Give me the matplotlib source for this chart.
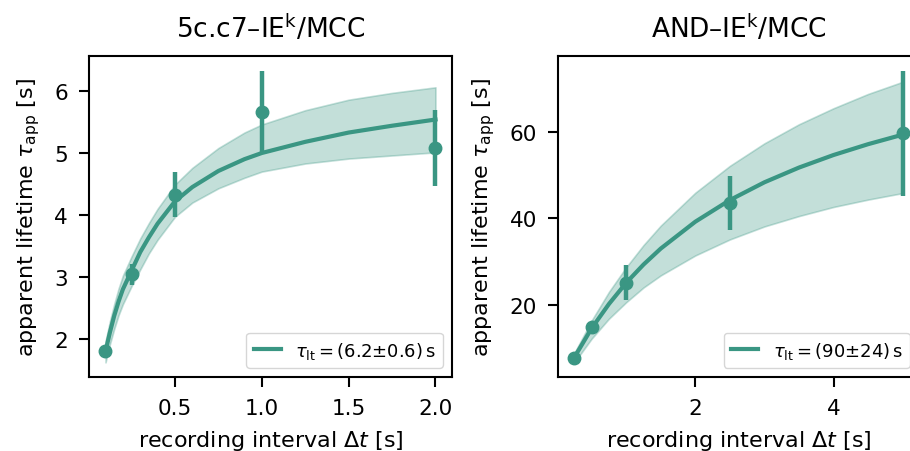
import matplotlib
matplotlib.use("Agg")
import matplotlib.pyplot as plt

# --- data ------------------------------------------------------------------
# left panel: 5c.c7-IEk/MCC
dt_a = [0.1, 0.25, 0.5, 1.0, 2.0]
tau_a = [1.80, 3.04, 4.33, 5.66, 5.08]
err_a = [0.05, 0.17, 0.36, 0.67, 0.62]

fit_x_a = [0.1, 0.125, 0.15, 0.175, 0.2, 0.25, 0.3, 0.35, 0.4, 0.5, 0.6, 0.75, 0.9, 1.0,
           1.25, 1.5, 1.75, 2.0]
fit_y_a = [1.80, 2.10, 2.37, 2.60, 2.80, 3.10, 3.40, 3.64, 3.86, 4.22, 4.45, 4.71, 4.90, 5.00,
           5.18, 5.33, 5.44, 5.54]
fit_hi_a = [1.96, 2.28, 2.56, 2.81, 3.02, 3.33, 3.62, 3.87, 4.10, 4.49, 4.76, 5.08, 5.33, 5.46,
            5.69, 5.86, 5.97, 6.06]
fit_lo_a = [1.62, 1.91, 2.16, 2.38, 2.56, 2.85, 3.12, 3.38, 3.60, 3.97, 4.20, 4.43, 4.60, 4.70,
            4.83, 4.91, 4.96, 5.01]

# right panel: AND-IEk/MCC
dt_b = [0.25, 0.5, 1.0, 2.5, 5.0]
tau_b = [7.75, 14.8, 25.1, 43.5, 59.6]
err_b = [0.5, 1.0, 4.0, 6.2, 14.5]

fit_x_b = [0.25, 0.5, 0.75, 1.0, 1.25, 1.5, 2.0, 2.5, 3.0, 3.5, 4.0, 4.5, 5.0]
fit_y_b = [7.9, 14.6, 20.2, 25.1, 29.3, 33.0, 39.2, 44.2, 48.3, 51.7, 54.6, 57.1, 59.3]
fit_hi_b = [8.9, 16.4, 23.0, 28.7, 33.8, 38.3, 45.9, 52.1, 57.3, 61.7, 65.4, 68.7, 71.5]
fit_lo_b = [6.7, 12.2, 16.8, 20.6, 24.0, 26.8, 31.4, 35.1, 38.1, 40.5, 42.6, 44.3, 45.8]

titles = ["5c.c7\u2013IE$^{\\rm k}$/MCC", "AND\u2013IE$^{\\rm k}$/MCC"]
fit_labels = [r"$\tau_{\rm lt} = (6.2{\pm}0.6)\,$s", r"$\tau_{\rm lt} = (90{\pm}24)\,$s"]

COLOR = "#3a9683"

fig = plt.figure(figsize=(9.1, 4.52), dpi=100)
ax_a = fig.add_axes([0.0978, 0.1637, 0.3989, 0.7102])
ax_b = fig.add_axes([0.6132, 0.1637, 0.3967, 0.7102])

panels = [
    (ax_a, dt_a, tau_a, err_a, fit_x_a, fit_y_a, fit_lo_a, fit_hi_a),
    (ax_b, dt_b, tau_b, err_b, fit_x_b, fit_y_b, fit_lo_b, fit_hi_b),
]

for i, (ax, x, y, e, fx, fy, flo, fhi) in enumerate(panels):
    ax.fill_between(fx, flo, fhi, color=COLOR, alpha=0.3, linewidth=1.2)
    ax.plot(fx, fy, color=COLOR, linewidth=3, label=fit_labels[i])
    ax.errorbar(x, y, yerr=e, fmt="o", color=COLOR, markersize=9,
                elinewidth=3.2, capsize=0)
    ax.set_title(titles[i], fontsize=19, pad=14)
    # reference crops this label at the bottom edge; keep it just inside
    ax.set_xlabel(r"recording interval $\Delta t$ [s]", fontsize=16, labelpad=7.5)
    ax.set_ylabel(r"apparent lifetime $\tau_{\rm app}$ [s]", fontsize=16, labelpad=9)
    ax.tick_params(labelsize=15.5, width=1.5, length=7.5, pad=7.5)
    for sp in ax.spines.values():
        sp.set_linewidth(1.5)
    ax.legend(loc="lower right", fontsize=13, handlelength=1.5)

ax_a.set_xticks([0.5, 1.0, 1.5, 2.0])
ax_a.set_yticks([2, 3, 4, 5, 6])
ax_b.set_xticks([2, 4])
ax_b.set_yticks([20, 40, 60])

fig.savefig("out.png", dpi=100)
